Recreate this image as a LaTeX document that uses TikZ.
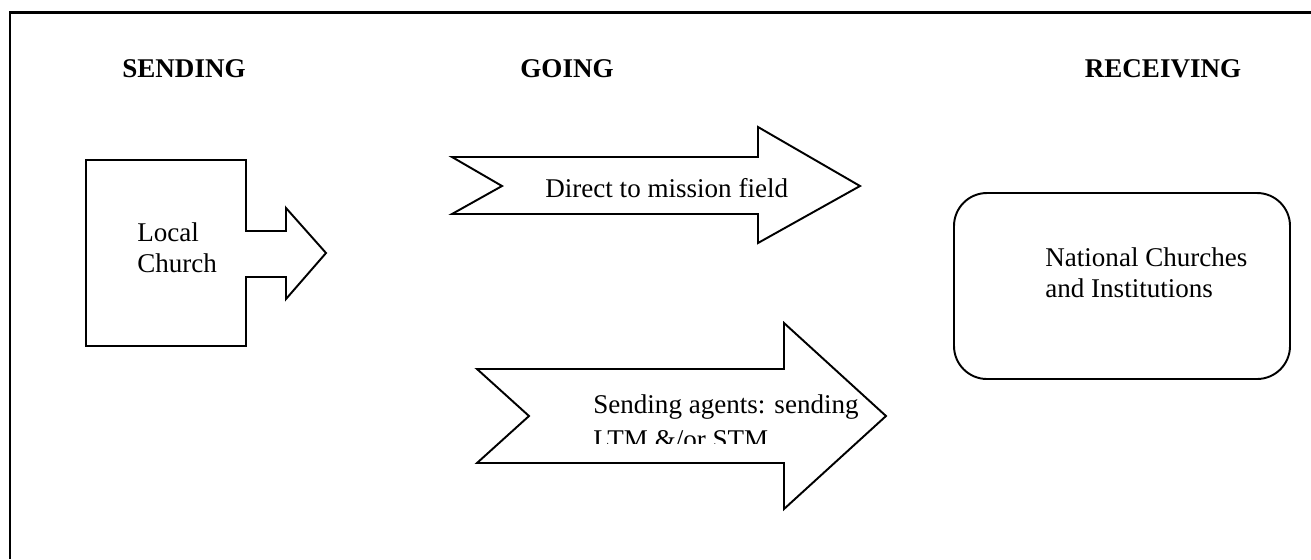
\documentclass[tikz,border=0pt]{standalone}
\usepackage{fontspec}
\setmainfont{Liberation Serif}
\begin{document}
\begin{tikzpicture}[x=0.02cm,y=-0.02cm,
    outline/.style={draw,line width=1.1pt,line join=miter},
    boxtext/.style={inner sep=0pt,align=left,font=\fontsize{15.4}{17.1}\selectfont},
    stagehead/.style={inner sep=0pt,font=\fontsize{15.4}{17.1}\selectfont\bfseries}]
    \useasboundingbox (0,0) rectangle (1311,559);

    % The frame
    \draw[line width=1.7pt] (10,559) -- (10,12) -- (1311,12);

    % Headings
    \node[stagehead] (sending) at (184,69) {SENDING};
    \node[stagehead] (going) at (567,69) {GOING};
    \node[stagehead] (receiving) at (1163,69) {RECEIVING};

    % Coordinates of the local church box
    \coordinate (A) at (86,160);
    \coordinate (B) at (246,160);
    \coordinate (C) at (246,231);
    \coordinate (D) at (286,231);
    \coordinate (E) at (286,208);
    \coordinate (F) at (326,253);
    \coordinate (G) at (286,299);
    \coordinate (H) at (286,277);
    \coordinate (I) at (246,277);
    \coordinate (J) at (246,346);
    \coordinate (K) at (86,346);

    % The local church
    \draw[outline] (A) -- (B) -- (C) -- (D) -- (E) -- (F) -- (G) -- (H) -- (I) -- (J) -- (K) -- cycle;
    \node[boxtext,anchor=base west] (local) at (137,272) {Local\\Church};

    % The direct arrow
    \draw[outline] (452,157) -- (758,157) -- (758,127) -- (860,186) -- (758,243) -- (758,214) -- (452,214) -- (502,186) -- cycle;
    \node[boxtext,anchor=base west] (direct) at (545,197) {Direct to mission field};

    % The agents arrow
    \draw[outline] (477,369) -- (784,369) -- (784,323) -- (886,416) -- (784,509) -- (784,463) -- (477,463) -- (529,416) -- cycle;
    \begin{scope}
        \clip (560,380) rectangle (880,443);
        \node[boxtext,anchor=base west] (agents) at (593,448) {Sending agents: sending\\[2.3pt]LTM \&/or STM};
    \end{scope}

    % The national churches
    \draw[outline,rounded corners=0.66cm] (954,193) rectangle (1290,379);
    \node[boxtext,anchor=base west] (national) at (1045,297) {National Churches\\and Institutions};
\end{tikzpicture}
\end{document}
